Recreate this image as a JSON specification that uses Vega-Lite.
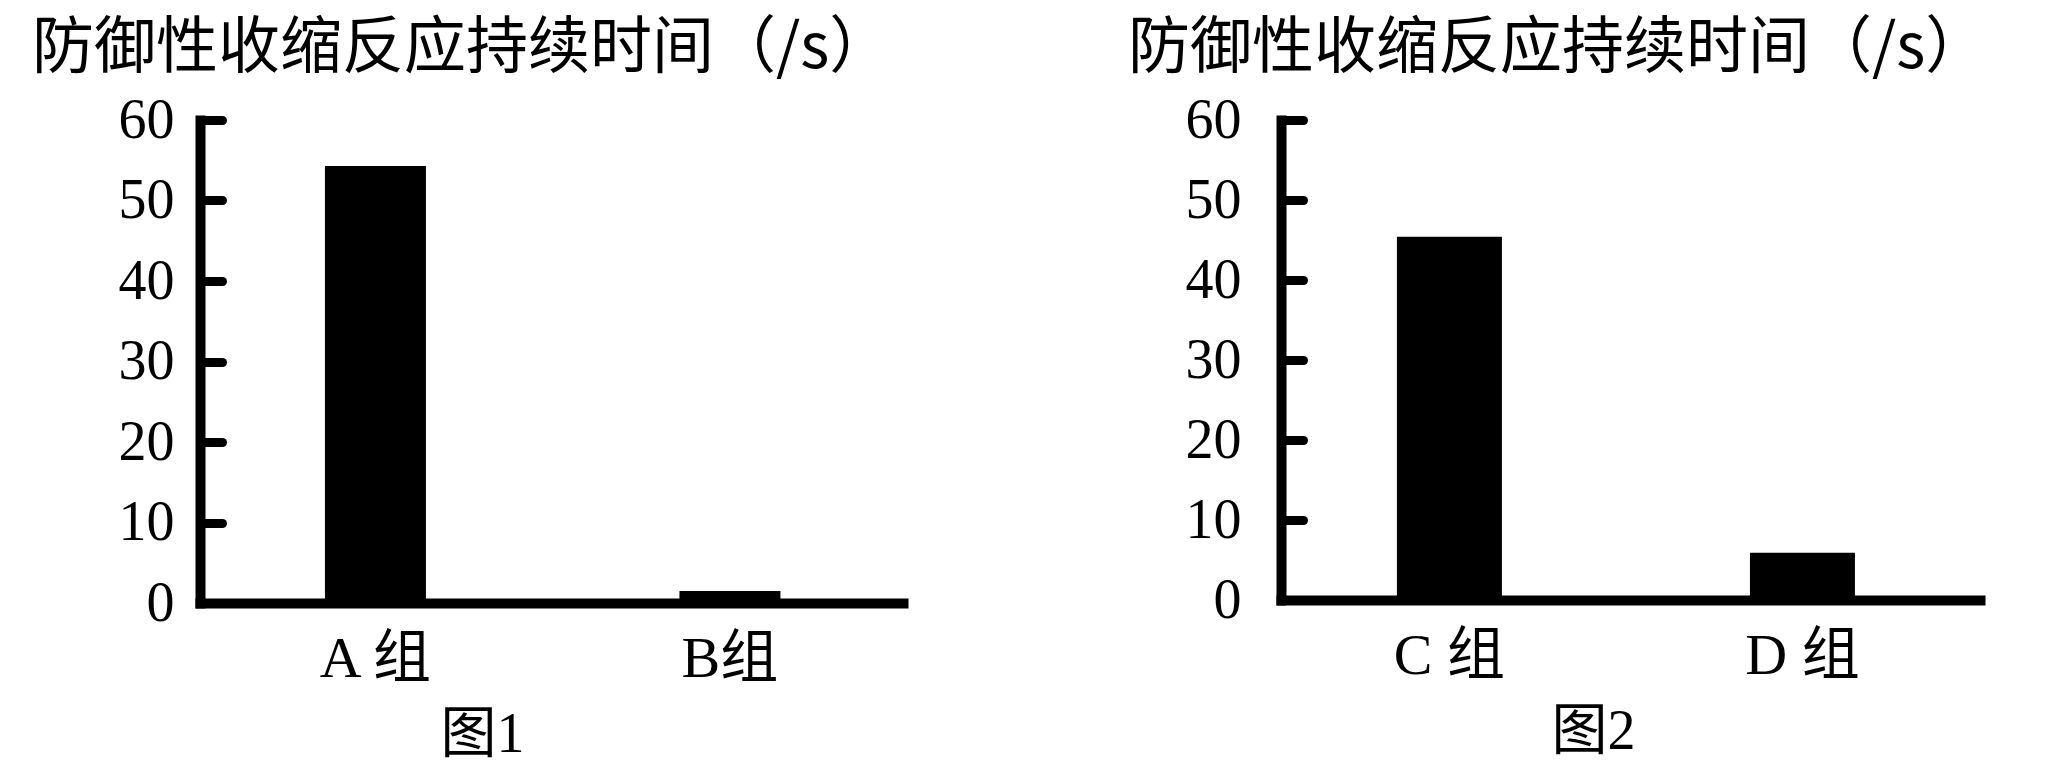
{
  "$schema": "https://vega.github.io/schema/vega-lite/v6.json",
  "background": "white",
  "padding": {"left": 32, "top": 18, "right": 5, "bottom": 5},
  "spacing": 225,
  "config": {
    "view": {"stroke": null},
    "axis": {"grid": false, "domainColor": "black", "tickColor": "black", "labelColor": "black", "titleColor": "black"},
    "title": {"font": "Noto Sans CJK SC", "fontSize": 62, "fontWeight": "normal", "color": "black"}
  },
  "hconcat": [
    {
      "width": 703,
      "height": 483,
      "data": {"values": [{"group": "A 组", "value": 54.3}, {"group": "B组", "value": 1.5}]},
      "title": {"text": "防御性收缩反应持续时间（/s）", "anchor": "start", "frame": "group", "dx": -168, "offset": -38, "baseline": "alphabetic"},
      "mark": {"type": "bar", "color": "black", "size": 101},
      "encoding": {
        "x": {
          "field": "group", "type": "nominal", "sort": null,
          "scale": {"paddingInner": 0.5, "paddingOuter": 0.2415, "align": 0.507},
          "axis": {
            "title": "图1", "titleX": 282, "titleY": 148, "titleBaseline": "alphabetic", "titleAlign": "center",
            "titleFont": "Liberation Serif, Noto Sans CJK SC", "titleFontSize": 56, "titleFontWeight": "normal",
            "labelAngle": 0, "labelFont": "Liberation Serif, Noto Sans CJK SC", "labelFontSize": 58, "labelPadding": 73, "labelBaseline": "alphabetic",
            "ticks": false, "tickSize": 0, "domainWidth": 10, "domainCap": "square"
          }
        },
        "y": {
          "field": "value", "type": "quantitative",
          "scale": {"domain": [0, 60], "nice": false, "zero": true},
          "axis": {
            "title": null, "values": [0, 10, 20, 30, 40, 50, 60],
            "labelFont": "Liberation Serif", "labelFontSize": 56, "labelPadding": 48, "labelBaseline": "middle",
            "tickSize": -22, "tickWidth": 9, "tickCap": "round",
            "domainWidth": 10, "domainCap": "square"
          }
        }
      }
    },
    {
      "width": 699,
      "height": 480,
      "data": {"values": [{"group": "C 组", "value": 45.4}, {"group": "D 组", "value": 5.9}]},
      "title": {"text": "防御性收缩反应持续时间（/s）", "anchor": "start", "frame": "group", "dx": -153, "offset": -38, "baseline": "alphabetic"},
      "mark": {"type": "bar", "color": "black", "size": 105},
      "encoding": {
        "x": {
          "field": "group", "type": "nominal", "sort": null,
          "scale": {"paddingInner": 0.5, "paddingOuter": 0.24, "align": 0.473},
          "axis": {
            "title": "图2", "titleX": 312, "titleY": 148, "titleBaseline": "alphabetic", "titleAlign": "center",
            "titleFont": "Liberation Serif, Noto Sans CJK SC", "titleFontSize": 56, "titleFontWeight": "normal",
            "labelAngle": 0, "labelFont": "Liberation Serif, Noto Sans CJK SC", "labelFontSize": 58, "labelPadding": 73, "labelBaseline": "alphabetic",
            "ticks": false, "tickSize": 0, "domainWidth": 10, "domainCap": "square"
          }
        },
        "y": {
          "field": "value", "type": "quantitative",
          "scale": {"domain": [0, 60], "nice": false, "zero": true},
          "axis": {
            "title": null, "values": [0, 10, 20, 30, 40, 50, 60],
            "labelFont": "Liberation Serif", "labelFontSize": 56, "labelPadding": 62, "labelBaseline": "middle",
            "tickSize": -22, "tickWidth": 9, "tickCap": "round",
            "domainWidth": 10, "domainCap": "square"
          }
        }
      }
    }
  ]
}
